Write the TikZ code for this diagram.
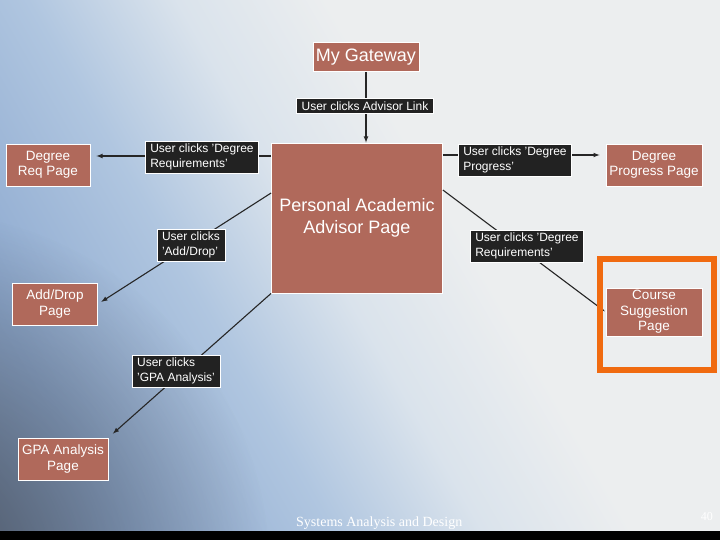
\documentclass[tikz,border=0pt]{standalone}
\usepackage{fontspec}
\setmainfont{Liberation Sans}
\newfontfamily\footfont{Liberation Serif}
\usetikzlibrary{arrows,fadings}
\definecolor{pagebrown}{HTML}{B0695B}
\definecolor{labelblack}{HTML}{222222}
\definecolor{hiorange}{HTML}{F06A10}
\definecolor{bgleft}{HTML}{7088AA}
\definecolor{bgblue}{HTML}{8EAAD0}
\definecolor{bgpale}{HTML}{B0C6E0}
\definecolor{bgmid}{HTML}{DAE3EC}
\definecolor{bgright}{HTML}{ECEEEF}
\definecolor{bgshadow}{HTML}{40454F}
\pgfdeclarehorizontalshading{slideback}{100bp}{color(0bp)=(bgleft); color(24bp)=(bgblue); color(38bp)=(bgpale); color(48bp)=(bgmid); color(58bp)=(bgright); color(100bp)=(bgright)}
\tikzfading[name=softspot, inner color=transparent!0, outer color=transparent!100]

\begin{document}
\begin{tikzpicture}[x=1pt,y=-1pt,
  page/.style={draw=white,line width=0.8pt,fill=pagebrown,text=white,align=center,inner sep=0pt,
    font=\fontsize{13.5}{15.5}\selectfont},
  clicks/.style={draw=white,line width=0.6pt,fill=labelblack,text=white,align=left,inner xsep=5pt,inner ysep=3pt,
    font=\fontsize{12}{14.5}\selectfont},
  link/.style={-latex,line width=1.1pt,draw=black!85}]
\useasboundingbox (0,0) rectangle (720,540);
\shade[shading=slideback,shading angle=30] (0,0) rectangle (720,531);
\fill[bgshadow,opacity=.85,path fading=softspot] (-90,570) circle (360);
\fill[black] (0,531) rectangle (720,540);

\node[page,minimum width=106,minimum height=29,font=\fontsize{18}{20}\selectfont] (gate) at (366,57) {My Gateway};
\node[page,minimum width=171,minimum height=150,font=\fontsize{18}{22}\selectfont] (paap) at (357,218) {Personal Academic\\Advisor Page};
\node[page,minimum width=84,minimum height=42] (dreq) at (48,165) {Degree\\Req Page};
\node[page,minimum width=85,minimum height=42] (addrop) at (55,304) {Add/Drop\\Page};
\node[page,minimum width=90,minimum height=42] (gpa) at (63,459) {GPA Analysis\\Page};
\node[page,minimum width=96,minimum height=42] (dprog) at (654,165) {Degree\\Progress Page};
\node[page,minimum width=96,minimum height=48] (course) at (654,312) {Course\\Suggestion\\Page};

\coordinate (progy) at (0,155);
\coordinate (addy) at (0,193);
\coordinate (coursey) at (0,190);

\draw[link] (gate) -- (gate |- paap.north);
\draw[link,shorten >=6pt] (paap.west |- dreq.east) ++(0,-9) coordinate (reqstart) -- (dreq.east |- reqstart);
\draw[link,shorten >=4pt] (paap.west |- addy) -- (addrop.east);
\draw[link,shorten >=6pt] (paap.south west) -- (gpa.north east);
\draw[link,shorten >=6pt] (paap.east |- progy) -- (dprog.west |- progy);
\draw[link,shorten >=1pt] (paap.east |- coursey) -- (course.west);

\node[clicks] (advlab) at (365,106) {User clicks Advisor Link};
\node[clicks] (reqlab) at (202,157) {User clicks 'Degree\\Requirements'};
\node[clicks] (addlab) at (191,245) {User clicks\\'Add/Drop'};
\node[clicks] (gpalab) at (176,371) {User clicks\\'GPA Analysis'};
\node[clicks] (proglab) at (515,160) {User clicks 'Degree\\Progress'};
\node[clicks] (reqlabb) at (527,246) {User clicks 'Degree\\Requirements'};

\draw[hiorange,line width=6pt] (600,258.5) rectangle (714,369.5);

\node[anchor=base west,inner sep=0pt,text=white,font=\footfont\fontsize{14}{16}\selectfont] (footer) at (296,526) {Systems Analysis and Design};
\node[anchor=base east,inner sep=0pt,text=white,font=\footfont\fontsize{12}{14}\selectfont] (pagenum) at (713,520) {40};
\end{tikzpicture}
\end{document}
